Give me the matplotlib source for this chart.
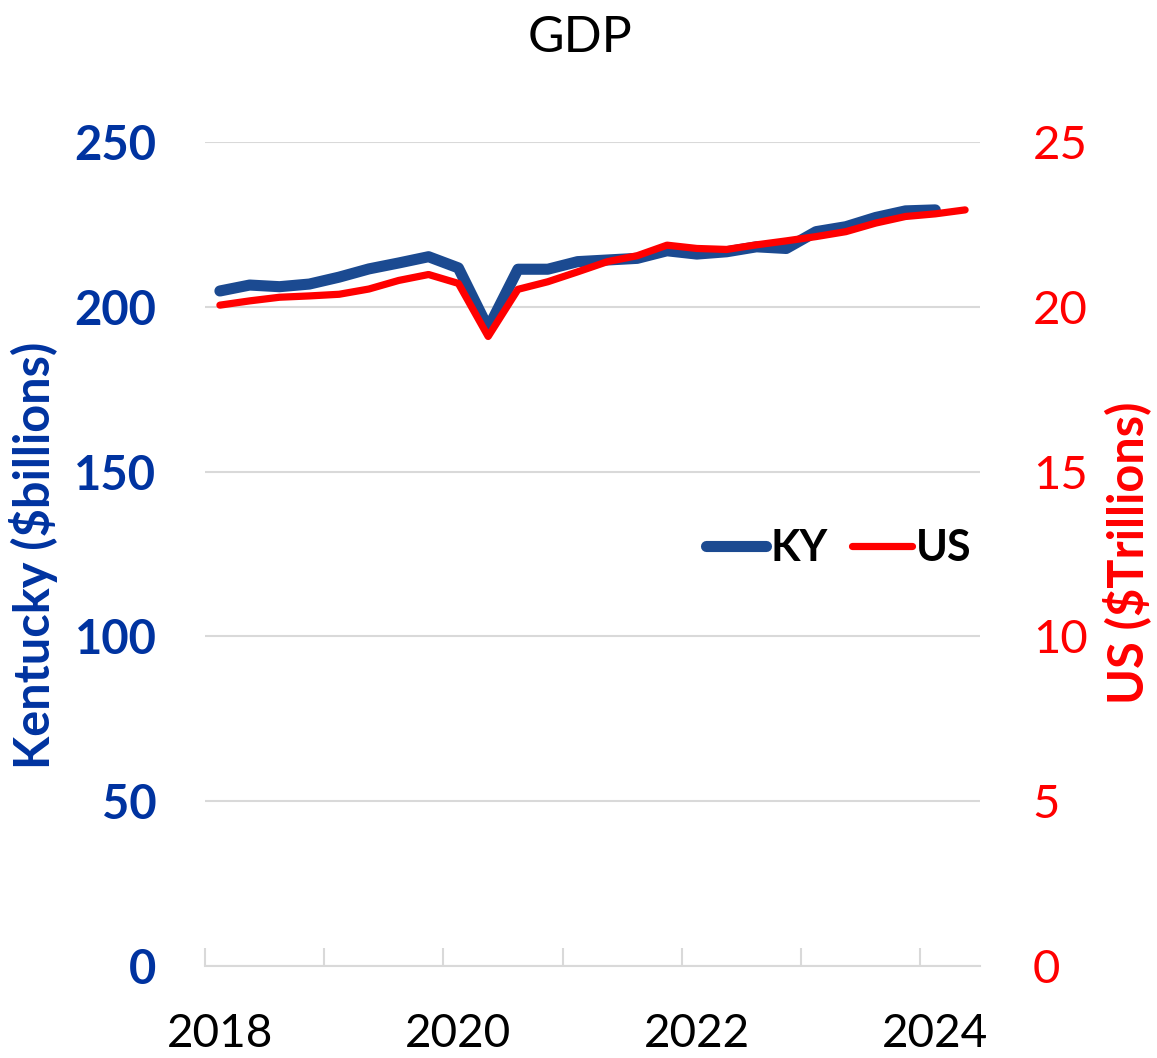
import matplotlib
matplotlib.use("Agg")
import matplotlib.pyplot as plt
import numpy as np

quarters = [f"{y}Q{q}" for y in range(2018, 2025) for q in range(1, 5)][:26]
ky = [204.8, 206.6, 206.1, 206.9, 209.0, 211.5, 213.3, 215.2, 211.8, 193.5,
      211.4, 211.4, 213.7, 214.2, 214.7, 217.0, 216.0, 216.7, 218.2, 217.7,
      222.8, 224.3, 227.1, 229.1, 229.4]
us = [20.05, 20.18, 20.29, 20.33, 20.38, 20.54, 20.80, 20.98, 20.71, 19.10,
      20.53, 20.76, 21.06, 21.37, 21.55, 21.87, 21.77, 21.74, 21.88, 22.00,
      22.13, 22.28, 22.54, 22.74, 22.82, 22.94]
year_labels = ["2018", "2020", "2022", "2024"]
left_ticks = [0, 50, 100, 150, 200, 250]
right_ticks = [0, 5, 10, 15, 20, 25]

FONT = "Lato"
BLUE_TXT = "#0033A0"
KY_COL = "#1B4A91"
US_COL = "#FF0000"
GRID = "#D9D9D9"

fig = plt.figure(figsize=(11.57, 10.58), dpi=100)
ax = fig.add_axes([205/1157, 1 - 966/1058, (980-205)/1157, (966-142)/1058])
ax2 = ax.twinx()

x_ky = np.arange(len(ky))
x_us = np.arange(len(us))
l1, = ax.plot(x_ky, ky, color=KY_COL, lw=8, solid_capstyle="round", solid_joinstyle="round", label="KY", zorder=3)
l2, = ax2.plot(x_us, us, color=US_COL, lw=5.2, solid_capstyle="round", solid_joinstyle="round", label="US", zorder=4)

ax.set_xlim(-0.5, len(quarters) - 0.5)
ax.set_ylim(0, 250)
ax2.set_ylim(0, 25)

ax.set_yticks(left_ticks)
ax.set_yticklabels([str(v) for v in left_ticks], fontfamily=FONT, fontweight="bold", fontsize=34, color=BLUE_TXT)
ax2.set_yticks(right_ticks)
ax2.set_yticklabels([str(v) for v in right_ticks], fontfamily=FONT, fontsize=34, color=US_COL)
ax.tick_params(axis="y", length=0, pad=35)
ax2.tick_params(axis="y", length=0, pad=38)

ax.grid(axis="y", color=GRID, lw=1.5)
ax.set_axisbelow(True)

# x axis: tick marks between year groups, labels every 8 quarters
major = np.arange(-0.5, len(quarters), 4)
ax.set_xticks(major)
ax.set_xticklabels([])
ax.tick_params(axis="x", which="major", direction="in", length=13, width=1.5, color=GRID)
label_pos = [quarters.index(f"{y}Q1") for y in year_labels]
ax.set_xticks(label_pos, minor=True)
ax.set_xticklabels(year_labels, minor=True, fontfamily=FONT, fontsize=33, color="black")
ax.tick_params(axis="x", which="minor", length=0, pad=34)

for s in ["left", "right", "top"]:
    ax.spines[s].set_visible(False)
    ax2.spines[s].set_visible(False)
ax.spines["bottom"].set_color(GRID)
ax.spines["bottom"].set_linewidth(1.5)
ax2.spines["bottom"].set_visible(False)

fig.text(34/1157, 1 - 555/1058, "Kentucky ($billions)", rotation=90, ha="center", va="center",
         fontfamily=FONT, fontweight="bold", fontsize=35, color=BLUE_TXT)
fig.text(1127/1157, 1 - 553/1058, "US ($Trillions)", rotation=90, ha="center", va="center",
         fontfamily=FONT, fontweight="bold", fontsize=35, color=US_COL)
fig.text(580/1157, 1 - 38/1058, "GDP", ha="center", va="center", fontfamily=FONT, fontsize=36, color="black")

leg = ax2.legend(handles=[l1, l2], loc="center", bbox_to_anchor=(839/1157, 1 - 548/1058),
                 bbox_transform=fig.transFigure, ncol=2, frameon=False,
                 prop={"family": FONT, "weight": "bold", "size": 31},
                 handlelength=1.4, handletextpad=0.1, columnspacing=0.55)

fig.savefig("out.png", dpi=100, facecolor="white")
